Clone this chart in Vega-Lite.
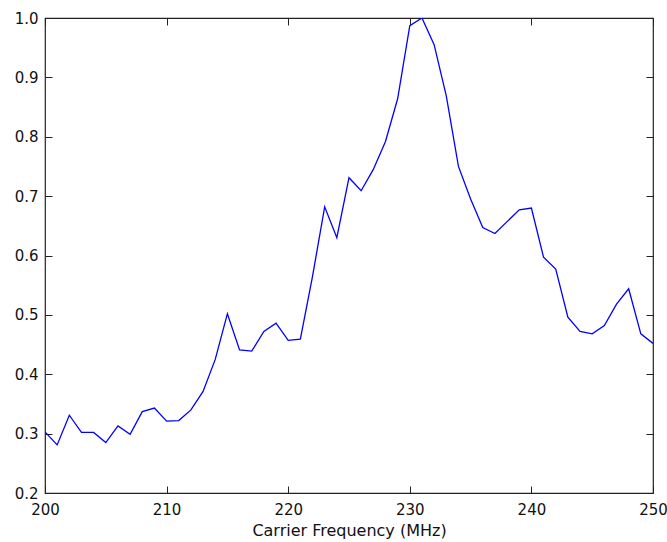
{
  "$schema": "https://vega.github.io/schema/vega-lite/v6.json",
  "autosize": "none",
  "width": 608,
  "height": 475,
  "padding": {"left": 45, "top": 18, "right": 14, "bottom": 49},
  "background": "white",
  "config": {
    "view": {"stroke": "#222222", "strokeWidth": 1.2},
    "axis": {
      "labelFont": "DejaVu Sans",
      "titleFont": "DejaVu Sans",
      "labelFontSize": 15,
      "titleFontSize": 16,
      "labelColor": "#111111",
      "titleColor": "#111111",
      "titleFontWeight": "normal",
      "grid": false,
      "domain": false,
      "labelFlush": false,
      "ticks": true,
      "tickSize": -7,
      "tickWidth": 1,
      "tickColor": "#222222",
      "zindex": 1
    }
  },
  "data": {
    "values": [
      {"f": 200, "v": 0.303}, {"f": 201, "v": 0.281}, {"f": 202, "v": 0.331},
      {"f": 203, "v": 0.302}, {"f": 204, "v": 0.302}, {"f": 205, "v": 0.285},
      {"f": 206, "v": 0.313}, {"f": 207, "v": 0.299}, {"f": 208, "v": 0.337},
      {"f": 209, "v": 0.343}, {"f": 210, "v": 0.321}, {"f": 211, "v": 0.322},
      {"f": 212, "v": 0.340}, {"f": 213, "v": 0.371}, {"f": 214, "v": 0.425},
      {"f": 215, "v": 0.502}, {"f": 216, "v": 0.441}, {"f": 217, "v": 0.439},
      {"f": 218, "v": 0.472}, {"f": 219, "v": 0.486}, {"f": 220, "v": 0.457},
      {"f": 221, "v": 0.459}, {"f": 222, "v": 0.565}, {"f": 223, "v": 0.682},
      {"f": 224, "v": 0.630}, {"f": 225, "v": 0.731}, {"f": 226, "v": 0.709},
      {"f": 227, "v": 0.745}, {"f": 228, "v": 0.792}, {"f": 229, "v": 0.864},
      {"f": 230, "v": 0.987}, {"f": 231, "v": 1.000}, {"f": 232, "v": 0.955},
      {"f": 233, "v": 0.869}, {"f": 234, "v": 0.750}, {"f": 235, "v": 0.695},
      {"f": 236, "v": 0.647}, {"f": 237, "v": 0.637}, {"f": 238, "v": 0.657},
      {"f": 239, "v": 0.677}, {"f": 240, "v": 0.680}, {"f": 241, "v": 0.597},
      {"f": 242, "v": 0.577}, {"f": 243, "v": 0.496}, {"f": 244, "v": 0.472},
      {"f": 245, "v": 0.468}, {"f": 246, "v": 0.482}, {"f": 247, "v": 0.518},
      {"f": 248, "v": 0.544}, {"f": 249, "v": 0.468}, {"f": 250, "v": 0.452}
    ]
  },
  "layer": [
    {
      "mark": {"type": "line", "color": "#0000ff", "strokeWidth": 1.3, "clip": true},
      "encoding": {
        "x": {
          "field": "f", "type": "quantitative",
          "scale": {"domain": [200, 250], "nice": false, "zero": false},
          "axis": {"orient": "bottom", "values": [200, 210, 220, 230, 240, 250], "title": "Carrier Frequency (MHz)", "labelPadding": 16, "titlePadding": 5}
        },
        "y": {
          "field": "v", "type": "quantitative",
          "scale": {"domain": [0.2, 1.0], "nice": false, "zero": false},
          "axis": {"orient": "left", "values": [0.2, 0.3, 0.4, 0.5, 0.6, 0.7, 0.8, 0.9, 1.0], "format": ".1f", "title": null, "labelPadding": 14}
        }
      }
    },
    {
      "mark": {"type": "line", "opacity": 0, "clip": true},
      "encoding": {
        "x": {
          "field": "f", "type": "quantitative",
          "scale": {"domain": [200, 250], "nice": false, "zero": false},
          "axis": {"orient": "top", "values": [200, 210, 220, 230, 240, 250], "labels": false, "title": null}
        },
        "y": {
          "field": "v", "type": "quantitative",
          "scale": {"domain": [0.2, 1.0], "nice": false, "zero": false},
          "axis": {"orient": "right", "values": [0.2, 0.3, 0.4, 0.5, 0.6, 0.7, 0.8, 0.9, 1.0], "labels": false, "title": null}
        }
      }
    }
  ]
}
